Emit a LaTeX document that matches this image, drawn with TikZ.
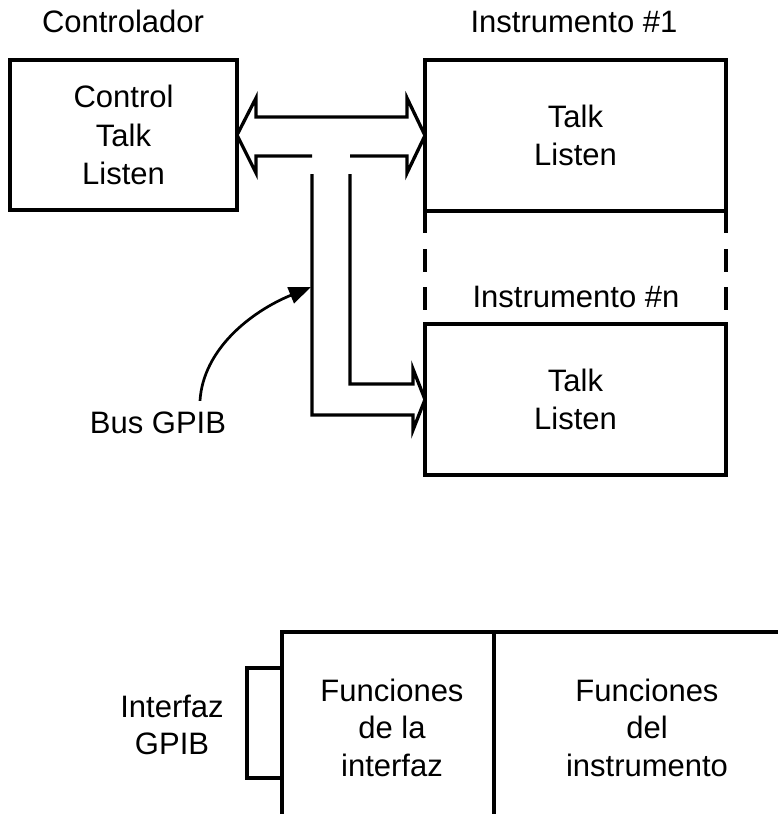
\documentclass[tikz,border=0pt]{standalone}
\usepackage{fontspec}
\setmainfont{Liberation Sans}
\usetikzlibrary{arrows.meta,calc}
\begin{document}
\begin{tikzpicture}[x=1pt,y=-1pt,
  lw/.style={line width=3.3pt},
  box/.style={draw,lw,rectangle,inner sep=0pt,outer sep=0pt,align=center,font=\fontsize{31}{38.5}\selectfont},
  txt/.style={inner sep=0pt,outer sep=0pt,align=center,font=\fontsize{31}{37.5}\selectfont},
  bus/.style={lw,line join=miter},
  lowbox/.style={draw,line width=3.1pt,rectangle,inner sep=0pt,outer sep=0pt},
  ]
\useasboundingbox (0,0) rectangle (778,814);
\clip (0,0) rectangle (778,814);

% titles
\node[txt,anchor=base] (ctrltitle) at (123,32) {Controlador};
\node[txt,anchor=base] (inst1title) at (574,32) {Instrumento \#1};
\node[txt,anchor=base] (instntitle) at (576,307) {Instrumento \#n};

% boxes
\node[box,minimum width=227pt,minimum height=150pt] (ctrl) at (123.5,135) {Control\\Talk\\Listen};
\node[box,minimum width=301pt,minimum height=151pt,font=\fontsize{31}{38}\selectfont] (inst1) at (575.5,135.5) {Talk\\Listen};
\node[box,minimum width=301pt,minimum height=151pt,font=\fontsize{31}{38}\selectfont] (instn) at (575.5,399.5) {Talk\\Listen};

% continuation of the instrument sides (dashed)
\draw[lw,dash pattern=on 22pt off 16pt on 23pt off 15pt on 23pt off 30pt] (inst1.south west) -- (instn.north west);
\draw[lw,dash pattern=on 22pt off 16pt on 23pt off 15pt on 23pt off 30pt] (inst1.south east) -- (instn.north east);

% GPIB bus (double arrow + stem)
\draw[bus] (350,156) -- (407,156) -- (407,173) -- (inst1.west) -- (407,98) -- (407,117)
  -- (256,117) -- (256,98) -- (ctrl.east) -- (256,173) -- (256,156) -- (312,156);
\draw[bus] (350,174) -- (350,384) -- (413,384) -- (413,369) -- (instn.west)
  -- (413,430) -- (413,415) -- (312,415) -- (312,174);
\coordinate (bustouch) at (311,287);

% bus label
\node[txt,anchor=base] (buslbl) at (158,433) {Bus GPIB};
\draw[line width=2.7pt,-{Triangle[length=22pt,width=17pt]}]
  ($(buslbl.north)+(42,-10.5)$) .. controls (203,350) and (250,312) .. (bustouch);

% lower diagram
\node[lowbox,minimum width=212pt,minimum height=268pt] (ifbox) at (388,766) {};
\node[lowbox,minimum width=316pt,minimum height=268pt] (instbox) at (652,766) {};
\node[lowbox,minimum width=35pt,minimum height=110pt] (port) at (264.5,723) {};
\node[txt] (iffn) at (392,727.5) {Funciones\\de la\\interfaz};
\node[txt] (instfn) at (647,727.5) {Funciones\\del\\instrumento};
\node[txt] (gpiblbl) at (172,725) {Interfaz\\GPIB};
\end{tikzpicture}
\end{document}
